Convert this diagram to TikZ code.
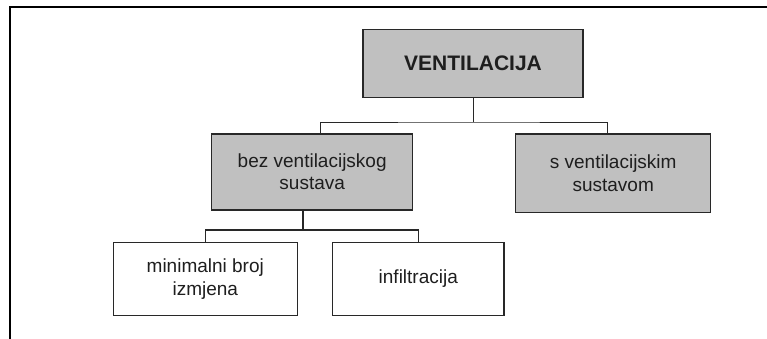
\documentclass[tikz,border=0pt]{standalone}
\usepackage{fontspec}
\setmainfont{Liberation Sans}
\definecolor{boxgray}{RGB}{192,192,192}
\definecolor{edgecol}{RGB}{40,40,40}
\definecolor{txtcol}{RGB}{30,30,30}
\tikzset{
  cbox/.style={draw=edgecol, line width=1.3pt, inner sep=0pt, align=center,
    text=txtcol, font=\fontsize{19}{22.3}\selectfont},
  grayfill/.style={fill=boxgray},
  thinconn/.style={draw=edgecol, line width=0.9pt},
  thickconn/.style={draw=edgecol, line width=1.6pt},
}
\begin{document}
\begin{tikzpicture}[x=1pt,y=-1pt]
\useasboundingbox (0,0) rectangle (767,338);
% frame
\draw[line width=2pt, miter limit=10] (9.7,345) -- (9.7,6.8) -- (775,6.8);
% nodes
\node[cbox, grayfill, minimum width=220pt, minimum height=68pt,
      font=\fontsize{21}{24}\selectfont\bfseries] (v) at (473,63.5) {\raisebox{-2pt}{VENTILACIJA}};
\node[cbox, grayfill, minimum width=201pt, minimum height=76pt] (bez) at (312.2,172) {bez ventilacijskog\\sustava};
\node[cbox, grayfill, minimum width=195pt, minimum height=78.7pt] (s) at (613.2,173.3) {s ventilacijskim\\sustavom};
\node[cbox, minimum width=184pt, minimum height=73.4pt] (mi) at (205.3,279) {minimalni broj\\izmjena};
\node[cbox, minimum width=171.3pt, minimum height=73.4pt] (inf) at (418.3,279) {\raisebox{-6pt}{infiltracija}};
% connectors
\coordinate (j1) at (473.7,122);
\coordinate (j2) at (303,230);
\draw[thinconn] (v.south -| j1) -- (j1);
\draw[thinconn] ([xshift=8.5pt]bez.north) |- (j1) -| ([xshift=-6pt]s.north);
\draw[thickconn] (bez.south -| j2) -- (j2);
\draw[thickconn] (mi.north) |- (j2) -| (inf.north);
\end{tikzpicture}
\end{document}
